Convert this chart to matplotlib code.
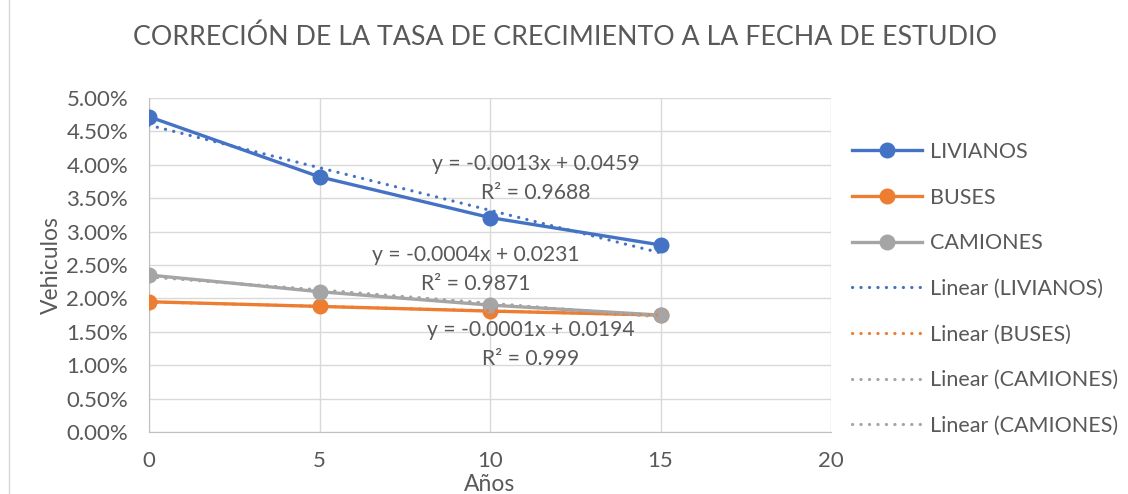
import numpy as np
import matplotlib
matplotlib.use("Agg")
import matplotlib.pyplot as plt
from matplotlib.ticker import FuncFormatter, MultipleLocator
from matplotlib.patches import Rectangle

years = [0, 5, 10, 15]
livianos = [0.0472, 0.0382, 0.0321, 0.0280]
buses = [0.0195, 0.0188, 0.0181, 0.0175]
camiones = [0.0235, 0.0210, 0.0190, 0.0175]
series_names = ["LIVIANOS", "BUSES", "CAMIONES"]
colors = ["#4472C4", "#ED7D31", "#A5A5A5"]
eq_labels = ["y = -0.0013x + 0.0459\nR² = 0.9688",
             "y = -0.0004x + 0.0231\nR² = 0.9871",
             "y = -0.0001x + 0.0194\nR² = 0.999"]
eq_pos = [(11.35, 0.0380), (9.59, 0.0243), (11.2, 0.0131)]

plt.rcParams['font.family'] = ['Lato', 'DejaVu Sans']
fig = plt.figure(figsize=(11.28, 4.94), dpi=100)
ax = fig.add_axes([149/1128, 1-432/494, 682/1128, 334/494])

txtc = "#595959"
data = [livianos, buses, camiones]
handles = []
for vals, name, c in zip(data, series_names, colors):
    h, = ax.plot(years, vals, color=c, lw=2.4, marker='o', ms=10.5, label=name, zorder=3)
    handles.append(h)
x = np.array(years, dtype=float)
trend_handles = []
for vals, name, c in zip(data + [camiones], series_names + ["CAMIONES"], colors + [colors[2]]):
    m, b = np.polyfit(x, vals, 1)
    h, = ax.plot(x, m*x+b, color=c, lw=2.3, ls=(0, (0.05, 2.6)), dash_capstyle='round',
                 label=f"Linear ({name})", zorder=4)
    trend_handles.append(h)

for lab, (xx, yy) in zip(eq_labels, eq_pos):
    ax.text(xx, yy, lab, ha='center', va='center', fontsize=15.2, color=txtc,
            linespacing=1.55, zorder=5)

ax.set_xlim(0, 20)
ax.set_ylim(0, 0.05)
ax.xaxis.set_major_locator(MultipleLocator(5))
ax.yaxis.set_major_locator(MultipleLocator(0.005))
ax.yaxis.set_major_formatter(FuncFormatter(lambda v, p: f"{v*100:.2f}%"))
ax.grid(True, color="#D9D9D9", lw=1)
ax.set_axisbelow(True)
for s in ["top", "right"]:
    ax.spines[s].set_visible(False)
for s in ["left", "bottom"]:
    ax.spines[s].set_color("#BFBFBF")
ax.tick_params(length=0, labelsize=16, colors=txtc)
ax.tick_params(axis='y', pad=15)
ax.tick_params(axis='x', pad=14)
ax.set_xlabel("Años", fontsize=16.5, color=txtc, labelpad=2)
ax.set_ylabel("Vehiculos", fontsize=16.5, color=txtc, labelpad=3)

fig.suptitle("CORRECIÓN DE LA TASA DE CRECIMIENTO A LA FECHA DE ESTUDIO",
             x=565/1128, y=1-37/494, va='center', fontsize=19.3, color=txtc)

leg = fig.legend(handles + trend_handles, [h.get_label() for h in handles + trend_handles],
                 loc='upper left', bbox_to_anchor=(852/1128, 1-142/494), frameon=False,
                 fontsize=15.5, labelcolor=txtc, handlelength=3.25, labelspacing=1.19,
                 handletextpad=0.37, borderpad=0, borderaxespad=0)

fig.patches.append(Rectangle((9/1128, -0.01), 1.2, 1.2, transform=fig.transFigure,
                             fill=False, ec="#D9D9D9", lw=1))
fig.savefig("out.png", dpi=100)
